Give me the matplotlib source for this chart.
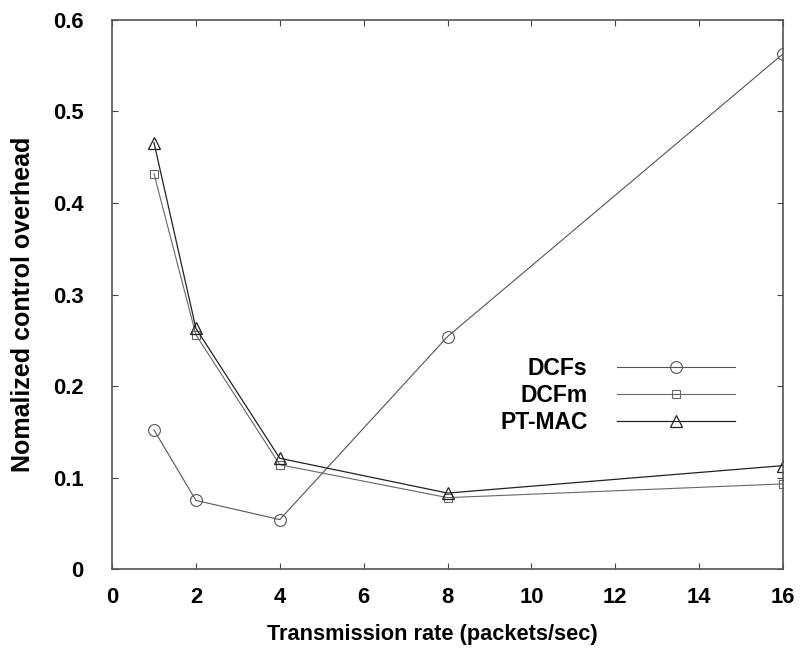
import matplotlib
matplotlib.use("Agg")
import matplotlib.pyplot as plt

rates = [1, 2, 4, 8, 16]
dcfs = [0.152, 0.075, 0.054, 0.254, 0.563]
dcfm = [0.432, 0.256, 0.114, 0.078, 0.093]
ptmac = [0.466, 0.263, 0.121, 0.083, 0.113]
xticks = [0, 2, 4, 6, 8, 10, 12, 14, 16]
yticks = [0, 0.1, 0.2, 0.3, 0.4, 0.5, 0.6]
ytick_labels = ["0", "0.1", "0.2", "0.3", "0.4", "0.5", "0.6"]

plt.rcParams['font.family'] = ['Liberation Sans', 'DejaVu Sans']
plt.rcParams['font.weight'] = 'bold'

fig = plt.figure(figsize=(8.06, 6.53), dpi=100)
ax = fig.add_axes([0.139, 0.1286, 0.8325, 0.8408])

ax.plot(rates, dcfs, color='#555555', lw=0.8, marker='o', ms=8.5,
        mfc='none', mec='#555555', mew=0.8, label='DCFs')
ax.plot(rates, dcfm, color='#666666', lw=0.8, marker='s', ms=6,
        mfc='none', mec='#666666', mew=0.8, label='DCFm')
ax.plot(rates, ptmac, color='#222222', lw=0.9, marker='^', ms=9,
        mfc='none', mec='#222222', mew=0.9, label='PT-MAC')

ax.set_xlim(0, 16)
ax.set_ylim(0, 0.6)
ax.set_xticks(xticks)
ax.set_xticklabels([str(v) for v in xticks])
ax.set_yticks(yticks)
ax.set_yticklabels(ytick_labels)
ax.tick_params(direction='in', top=True, right=True, length=4, width=0.8,
               color='#444444', labelsize=15.8)
ax.tick_params(axis='x', pad=13)
ax.tick_params(axis='y', pad=20.5)
for s in ax.spines.values():
    s.set_color('#555555')
    s.set_linewidth(1.2)

ax.set_xlabel('Transmission rate (packets/sec)', fontsize=15.7, fontweight='bold')
ax.set_ylabel('Nomalized control overhead', fontsize=18, fontweight='bold')
ax.xaxis.set_label_coords(0.478, -0.101)
ax.yaxis.set_label_coords(-0.1148, 0.483)

leg = ax.legend(loc='center', bbox_to_anchor=(0.766, 0.394), bbox_transform=fig.transFigure,
                frameon=False, markerfirst=False, numpoints=1, fontsize=16.5,
                handlelength=5.15, handletextpad=1.27, labelspacing=0.17, borderpad=0)

fig.savefig('out.png', dpi=100)
